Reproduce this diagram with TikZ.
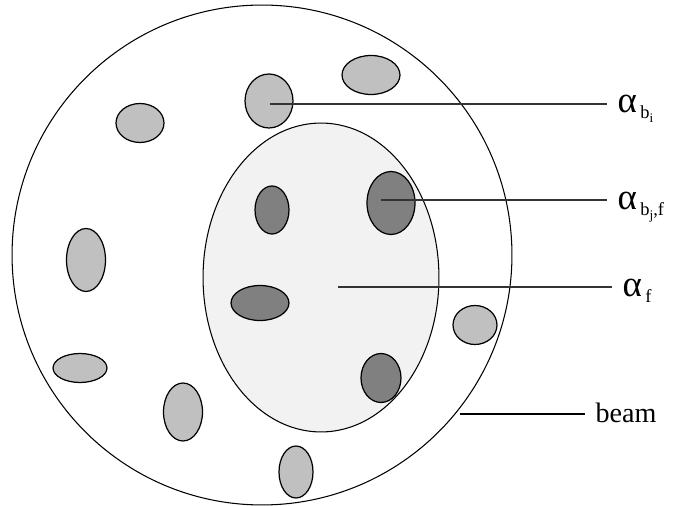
\documentclass[tikz,border=0pt]{standalone}
\usepackage{fontspec}
\setmainfont{Liberation Serif}
\usetikzlibrary{shapes.geometric, calc}
\definecolor{clight}{HTML}{C0C0C0}
\definecolor{cdark}{HTML}{808080}
\definecolor{cpale}{HTML}{F2F2F2}
\newcommand{\alphasym}{{\fontsize{21}{23}\selectfont α}}
\newcommand{\lowsub}[1]{\hspace{2pt}\raisebox{-3pt}{\fontsize{10.5}{11}\selectfont #1}}
\newcommand{\lowersub}[1]{\raisebox{-2.5pt}{\fontsize{7.5}{8}\selectfont #1}}
\tikzset{
  every picture/.style={line width=0.6pt},
  blob/.style 2 args={ellipse, draw, line width=0.7pt, inner sep=0pt, minimum width=#1*0.04cm, minimum height=#2*0.04cm},
  lead/.style={draw=black!80, line width=0.7pt},
  tag/.style={anchor=base west, inner xsep=0.2cm, inner ysep=0pt, font=\fontsize{16}{19}\selectfont},
}

\begin{document}
\begin{tikzpicture}[x=0.02cm, y=-0.02cm]
  \useasboundingbox (0,0) rectangle (686,506);
  % beam cross-section
  \node[circle, draw, inner sep=0pt, minimum size=10cm] (beam) at (262,255) {};
  % bubbles outside the focus region
  \foreach \n/\x/\y/\a/\b in {1/269/101/24/27, 2/371/75/29/19.5, 3/140/123/24/19.5, 4/86/260/19.5/31.5,
      5/80/368/27/14.5, 6/183/412/19.5/29, 7/296/472/17/26, 8/475/325/22/19.5}
    \node[blob={\a}{\b}, fill=clight] (l\n) at (\x,\y) {};
  % focus region and the bubbles inside it
  \node[blob={118}{154.5}, line width=0.6pt, fill=cpale] (focus) at (321,277.5) {};
  \foreach \n/\x/\y/\a/\b in {1/272/210/17/24, 2/391/203/24/31.5, 3/260/303/29/17.5, 4/381/378/20/24.5}
    \node[blob={\a}{\b}, fill=cdark] (d\n) at (\x,\y) {};
  % labels
  \node[tag] (tbi) at (607,113) {\alphasym\lowsub{b\lowersub{i}}};
  \node[tag] (tbj) at (607,210) {\alphasym\lowsub{b\lowersub{j},f}};
  \node[tag] (tf) at (612,297) {\alphasym\lowsub{f}};
  \node[tag] (tbeam) at (585,422) {beam};
  \coordinate (pbi) at (270,104);
  \coordinate (pbj) at (381,200);
  \coordinate (pf) at (338,287);
  \coordinate (pbeam) at (460,414);
  \draw[lead] (pbi) -- (pbi -| tbi.west);
  \draw[lead] (pbj) -- (pbj -| tbj.west);
  \draw[lead] (pf) -- (pf -| tf.west);
  \draw[line width=0.6pt] (pbeam) -- (pbeam -| tbeam.west);
\end{tikzpicture}
\end{document}
